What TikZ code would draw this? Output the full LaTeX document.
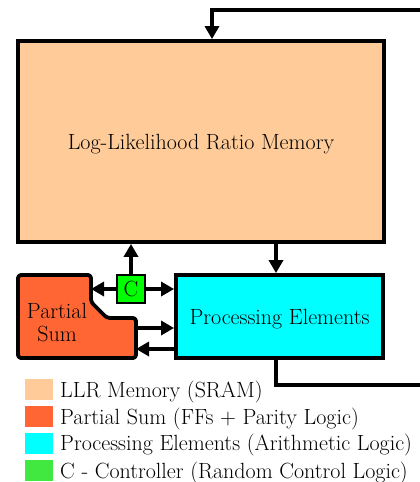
\documentclass[tikz,border=0pt]{standalone}
\usetikzlibrary{arrows.meta}
\definecolor{llrfill}{HTML}{FFCC99}
\definecolor{psumfill}{HTML}{FF6633}
\definecolor{pefill}{HTML}{00FFFF}
\definecolor{ctlfill}{HTML}{00FF00}
\definecolor{ctlleg}{HTML}{40E840}
\begin{document}
\begin{tikzpicture}[x=1pt,y=-1pt,
  txt/.style={font=\fontsize{22}{23}\selectfont},
  blk/.style={draw=black,line width=3.8pt,inner sep=0pt,text depth=0pt,txt},
  conn/.style={line width=3.8pt,-{Triangle[length=13pt,width=14pt]}},
  swatch/.style={minimum width=28pt,minimum height=21pt,inner sep=0pt},
  legtxt/.style={anchor=west,inner sep=0pt,txt}]
\clip (0,0) rectangle (420,482);
\useasboundingbox (0,0) rectangle (420,482);
% blocks
\node[blk,fill=llrfill,minimum width=366pt,minimum height=201pt] (llr) at (201,141.5) {Log-Likelihood Ratio Memory};
\node[blk,fill=pefill,minimum width=207pt,minimum height=83pt] (pe) at (279.5,316.5) {Processing Elements};
\node[blk,fill=ctlfill,line width=2pt,minimum width=28pt,minimum height=28pt] (ctl) at (131,289) {C};
\draw[line width=3.8pt,fill=psumfill,rounded corners=3pt,line join=round]
  (18,275) -- (91,275) -- (91,302) -- (107,318) -- (136,318) -- (136,358) -- (18,358) -- cycle;
\node[txt,align=center,inner sep=0pt] (psum) at (57,323) {Partial\\Sum};
\coordinate (psumC) at (91,289);
\coordinate (psumA) at (136,328);
\coordinate (psumB) at (136,349);
% connectors
\draw[conn] (ctl.north) -- (ctl.north |- llr.south);
\draw[conn] (ctl.east) -- (ctl.east -| pe.west);
\draw[conn] (ctl.west) -- (psumC);
\draw[conn] (llr.south -| 276,0) -- (pe.north -| 276,0);
\draw[conn] (psumA) -- (psumA -| pe.west);
\draw[conn] (psumB -| pe.west) -- (psumB);
\coordinate (fb1) at (276,385);
\coordinate (fb2) at (440,385);
\coordinate (fb3) at (440,10);
\coordinate (fb4) at (212,10);
\draw[conn] (pe.south -| fb1) -- (fb1) -- (fb2) -- (fb3) -- (fb4) -- (fb4 |- llr.north);
% legend
\node[swatch,fill=llrfill] (s1) at (39,389.5) {};
\node[swatch,fill=psumfill] (s2) at (39,416.5) {};
\node[swatch,fill=pefill] (s3) at (39,443) {};
\node[swatch,fill=ctlleg] (s4) at (39,470.5) {};
\node[legtxt] (l1) at (60,392) {LLR Memory (SRAM)};
\node[legtxt] (l2) at (60,419) {Partial Sum (FFs + Parity Logic)};
\node[legtxt] (l3) at (60,445.5) {Processing Elements (Arithmetic Logic)};
\node[legtxt] (l4) at (60,473) {C - Controller (Random Control Logic)};
\end{tikzpicture}
\end{document}
